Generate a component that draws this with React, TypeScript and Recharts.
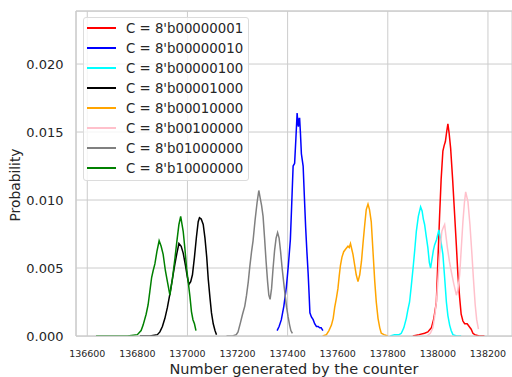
import React from 'react';
import { LineChart, Line, XAxis, YAxis, CartesianGrid, Legend, ReferenceLine } from 'recharts';

// [counter value, probability]
const c1: number[][] = [
  [137900, 0], [137925, 0.0001], [137947, 0.0002], [137960, 0.0003], [137974, 0.0006], [137984, 0.0013],
  [137994, 0.0025], [138000, 0.0055], [138007, 0.0089], [138013, 0.0115], [138020, 0.0136], [138025, 0.014],
  [138030, 0.0143], [138035, 0.015], [138040, 0.0156], [138045, 0.0149], [138051, 0.0138], [138059, 0.0115],
  [138067, 0.0089], [138074, 0.0066], [138080, 0.0045], [138087, 0.0028], [138093, 0.0016], [138100, 0.0011],
  [138107, 0.0009], [138112, 0.0009], [138117, 0.0009], [138125, 0.0007], [138133, 0.0005], [138140, 0.0002],
  [138147, 0.0001], [138165, 0], [138186, 0],
];
const c2: number[][] = [
  [137358, 0.0004], [137366, 0.0007], [137375, 0.0012], [137385, 0.0022], [137395, 0.0036], [137403, 0.0052],
  [137411, 0.0071], [137416, 0.0095], [137422, 0.0125], [137428, 0.0127], [137433, 0.0145], [137438, 0.0164],
  [137441, 0.0156], [137443, 0.0154], [137446, 0.016], [137448, 0.016], [137451, 0.015], [137455, 0.0134],
  [137458, 0.013], [137462, 0.0125], [137467, 0.0102], [137472, 0.008], [137477, 0.0062], [137482, 0.0046],
  [137486, 0.003], [137489, 0.0017], [137495, 0.0014], [137502, 0.0012], [137508, 0.0009], [137515, 0.0007],
  [137522, 0.0007], [137528, 0.0006], [137534, 0.0006], [137541, 0.0004],
];
const c4: number[][] = [
  [137810, 0], [137827, 0.0001], [137845, 0.0001], [137854, 0.0002], [137864, 0.0006], [137874, 0.0013],
  [137880, 0.0019], [137887, 0.0025], [137894, 0.0037], [137901, 0.005], [137908, 0.0064], [137914, 0.0077],
  [137922, 0.0088], [137931, 0.0095], [137937, 0.0092], [137942, 0.0086], [137947, 0.0082], [137953, 0.0074],
  [137960, 0.0065], [137966, 0.0054], [137971, 0.005], [137977, 0.0057], [137982, 0.0063], [137987, 0.0067],
  [137995, 0.0071], [138004, 0.0078], [138012, 0.007], [138020, 0.006], [138027, 0.0043], [138034, 0.0025],
  [138040, 0.0015], [138047, 0.0008], [138053, 0.0004], [138060, 0.0001], [138075, 0], [138093, 0],
];
const c8: number[][] = [
  [136810, 0], [136850, 0], [136880, 0.0001], [136890, 0.0003], [136900, 0.0007], [136910, 0.0013],
  [136920, 0.0021], [136930, 0.0031], [136940, 0.0042], [136950, 0.0053], [136958, 0.0061], [136966, 0.0068],
  [136975, 0.0066], [136983, 0.0061], [136992, 0.0052], [137000, 0.0043], [137006, 0.0038], [137013, 0.004],
  [137020, 0.0045], [137028, 0.0058], [137036, 0.0073], [137043, 0.0084], [137048, 0.0087], [137055, 0.0086],
  [137063, 0.0082], [137070, 0.0072], [137077, 0.0058], [137083, 0.0042], [137090, 0.0028], [137096, 0.0017],
  [137103, 0.0009], [137110, 0.0004], [137116, 0.0001],
];
const c16: number[][] = [
  [137540, 0], [137555, 0.0001], [137565, 0.0004], [137575, 0.0008], [137582, 0.0013], [137588, 0.0021],
  [137595, 0.0028], [137601, 0.0035], [137606, 0.0044], [137611, 0.0052], [137617, 0.0058], [137624, 0.0062],
  [137632, 0.0064], [137641, 0.0066], [137646, 0.0065], [137651, 0.0068], [137656, 0.0064], [137661, 0.006],
  [137667, 0.0053], [137674, 0.0045], [137681, 0.004], [137688, 0.0045], [137695, 0.0055], [137701, 0.0068],
  [137708, 0.0082], [137714, 0.0093], [137721, 0.0097], [137727, 0.0093], [137734, 0.0084], [137741, 0.0062],
  [137748, 0.004], [137754, 0.0025], [137761, 0.0013], [137768, 0.0006], [137774, 0.0002], [137785, 0.0001],
  [137800, 0],
];
const c32: number[][] = [
  [137955, 0], [137970, 0.0002], [137980, 0.0006], [137987, 0.0014], [137994, 0.0025], [138000, 0.004],
  [138007, 0.006], [138012, 0.007], [138016, 0.0077], [138022, 0.008], [138027, 0.0082], [138032, 0.0074],
  [138038, 0.0065], [138046, 0.0055], [138054, 0.0047], [138064, 0.0038], [138074, 0.003], [138080, 0.0034],
  [138087, 0.0045], [138094, 0.0066], [138100, 0.0084], [138106, 0.0098], [138111, 0.0106], [138116, 0.0102],
  [138120, 0.0099], [138128, 0.0082], [138136, 0.006], [138142, 0.0042], [138149, 0.0023], [138155, 0.0012],
  [138162, 0.0005],
];
const c64: number[][] = [
  [137156, 0], [137180, 0], [137195, 0.0001], [137202, 0.0003], [137212, 0.001], [137220, 0.0016],
  [137229, 0.0022], [137236, 0.003], [137243, 0.004], [137249, 0.0051], [137256, 0.0062], [137262, 0.007],
  [137270, 0.0085], [137278, 0.0098], [137285, 0.0107], [137290, 0.0102], [137296, 0.0096], [137302, 0.0088],
  [137308, 0.0072], [137314, 0.0055], [137320, 0.004], [137325, 0.003], [137330, 0.0027], [137336, 0.0035],
  [137342, 0.005], [137348, 0.0063], [137354, 0.0072], [137360, 0.0076], [137366, 0.0072], [137372, 0.0062],
  [137378, 0.005], [137384, 0.004], [137390, 0.003], [137396, 0.0021], [137402, 0.0014], [137408, 0.0008],
  [137413, 0.0004], [137419, 0.0002],
];
const c128: number[][] = [
  [136635, 0], [136700, 0], [136760, 0], [136800, 0.0001], [136815, 0.0004], [136823, 0.0008],
  [136835, 0.0016], [136843, 0.0023], [136850, 0.0033], [136857, 0.0043], [136863, 0.0048], [136870, 0.0053],
  [136878, 0.0062], [136887, 0.007], [136895, 0.0066], [136903, 0.006], [136912, 0.0048], [136920, 0.004],
  [136930, 0.003], [136940, 0.0042], [136950, 0.0057], [136958, 0.007], [136966, 0.0082], [136973, 0.0088],
  [136983, 0.0077], [136990, 0.0064], [136997, 0.0049], [137003, 0.004], [137010, 0.0029], [137016, 0.0018],
  [137022, 0.0012], [137028, 0.0009], [137034, 0.0004],
];

const labels = [
  "C = 8'b00000001", "C = 8'b00000010", "C = 8'b00000100", "C = 8'b00001000",
  "C = 8'b00010000", "C = 8'b00100000", "C = 8'b01000000", "C = 8'b10000000",
];
const colors = ['#ff0000', '#0000ff', '#00ffff', '#000000', '#ffa500', '#ffc0cb', '#808080', '#008000'];
const seriesValues = [c1, c2, c4, c8, c16, c32, c64, c128];

const xTicks = [136600, 136800, 137000, 137200, 137400, 137600, 137800, 138000, 138200];
const yTicks = [0, 0.005, 0.01, 0.015, 0.02];

const X_DOMAIN: [number, number] = [136555, 138296];
const Y_MAX = 0.0239;
const TEXT = '#262626';
const GRID = '#cccccc';
const FONT = 'DejaVu Sans';

const series = seriesValues.map((vals, i) => ({
  name: labels[i],
  color: colors[i],
  data: vals.map(([x, p]) => ({ x, p })),
}));

const renderLegend = () => (
  <div
    style={{
      width: 166,
      height: 164,
      boxSizing: 'border-box',
      border: '1px solid #dcdcdc',
      borderRadius: 3,
      background: 'rgba(255,255,255,0.8)',
      fontFamily: FONT,
      fontSize: 13.3,
      color: TEXT,
    }}
  >
    {series.map((s) => (
      <div key={s.name} style={{ height: 20, display: 'flex', alignItems: 'center' }}>
        <div style={{ marginLeft: 3, width: 29, height: 1.5, background: s.color }} />
        <span style={{ marginLeft: 10, whiteSpace: 'nowrap' }}>{s.name}</span>
      </div>
    ))}
  </div>
);

const renderYLabel = () => (
  <text
    x={15}
    y={185}
    transform="rotate(-90 15 185)"
    textAnchor="middle"
    dominantBaseline="central"
    fontSize={13.8}
    fontFamily={FONT}
    fill={TEXT}
  >
    Probability
  </text>
);

export default function App() {
  return (
    <div style={{ position: 'absolute', left: 0, top: 0, background: '#fff' }}>
      <LineChart width={512} height={377} margin={{ top: 11, right: 0, bottom: 0, left: 0 }} style={{ fontFamily: FONT }}>
        <CartesianGrid stroke={GRID} strokeWidth={1} />
        <XAxis
          dataKey="x"
          type="number"
          domain={X_DOMAIN}
          allowDataOverflow
          ticks={xTicks}
          height={41}
          tickLine={false}
          tickSize={6}
          tickMargin={8}
          axisLine={{ stroke: GRID, strokeWidth: 1.25 }}
          tick={{ fontSize: 9.5, fill: TEXT, fontFamily: FONT }}
          label={{ value: 'Number generated by the counter', position: 'insideBottom', offset: 3, fontSize: 14.5, fill: TEXT, fontFamily: FONT }}
        />
        <YAxis
          type="number"
          domain={[0, Y_MAX]}
          allowDataOverflow
          ticks={yTicks}
          width={76}
          tickLine={false}
          tickSize={6}
          tickMargin={6.5}
          axisLine={{ stroke: GRID, strokeWidth: 1.25 }}
          tick={{ fontSize: 13, fill: TEXT, fontFamily: FONT }}
          tickFormatter={(v: number) => v.toFixed(3)}
          label={{ content: renderYLabel }}
        />
        <ReferenceLine y={Y_MAX} stroke={GRID} strokeWidth={1.25} />
        {series.map((s) => (
          <Line
            key={s.name}
            data={s.data}
            dataKey="p"
            name={s.name}
            type="linear"
            stroke={s.color}
            strokeWidth={1.5}
            dot={false}
            activeDot={false}
            isAnimationActive={false}
          />
        ))}
        <Legend
          content={renderLegend}
          layout="vertical"
          align="center"
          verticalAlign="middle"
          wrapperStyle={{ left: 83, top: 17, width: 166, height: 164 }}
        />
      </LineChart>
    </div>
  );
}
